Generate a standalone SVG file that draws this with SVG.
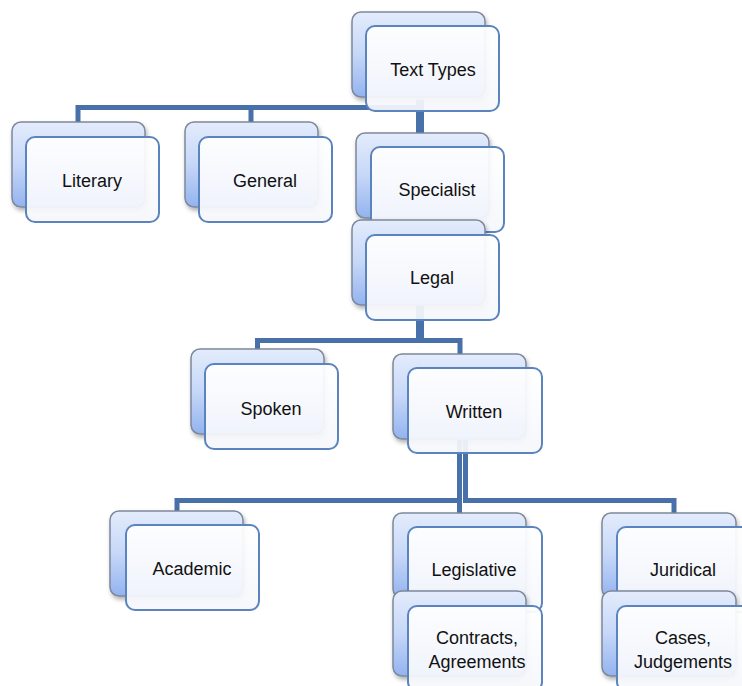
<svg xmlns="http://www.w3.org/2000/svg" width="742" height="686" viewBox="0 0 742 686">
<defs>
<linearGradient id="gBack" x1="0" y1="0" x2="0" y2="1">
<stop offset="0" stop-color="#e4ecfc"/>
<stop offset="0.5" stop-color="#c6d7f8"/>
<stop offset="1" stop-color="#93b3ef"/>
</linearGradient>
<linearGradient id="gFront" x1="0" y1="0" x2="0" y2="1">
<stop offset="0" stop-color="#ffffff"/>
<stop offset="1" stop-color="#f5f7fc"/>
</linearGradient>
<filter id="sh" x="-10%" y="-10%" width="130%" height="130%">
<feDropShadow dx="1.5" dy="3" stdDeviation="2" flood-color="#000" flood-opacity="0.3"/>
</filter>
<style>
.back{fill:url(#gBack);stroke:#7d889a;stroke-width:1.5;filter:url(#sh)}
.front{fill:url(#gFront);fill-opacity:0.93;stroke:#5b84bf;stroke-width:2}
.lbl{font-family:"Liberation Sans",Arial,sans-serif;font-size:18px;fill:#111;text-anchor:middle}
.c{fill:none;stroke:#4870a9;stroke-width:5;stroke-linejoin:miter}
.ct{fill:none;stroke:#4870a9;stroke-width:8}
</style>
</defs>
<g id="connectors">
<path class="c" d="M78,122 V107.5 H420"/>
<path class="c" d="M251,107.5 V122"/>
<path class="ct" d="M420,100 V134"/>
<path class="ct" d="M420,300 V343"/>
<path class="c" d="M257.5,349 V340.5 H460 V355"/>
<path class="c" d="M459.5,440 V513"/>
<path class="c" d="M465.5,440 V500.5 H674 V513"/>
<path class="c" d="M459.5,500.5 H177 V511"/>
</g>
<g id="n-texttypes"><rect class="back" x="352" y="12" width="133" height="85" rx="9"/><rect class="front" x="366" y="26" width="133" height="85" rx="9"/><text class="lbl" x="433" y="76">Text Types</text></g>
<g id="n-literary"><rect class="back" x="12" y="122" width="133" height="85" rx="9"/><rect class="front" x="26" y="137" width="133" height="85" rx="9"/><text class="lbl" x="92" y="187">Literary</text></g>
<g id="n-general"><rect class="back" x="185" y="122" width="133" height="85" rx="9"/><rect class="front" x="199" y="137" width="133" height="85" rx="9"/><text class="lbl" x="265" y="187">General</text></g>
<g id="n-specialist"><rect class="back" x="356" y="133" width="133" height="85" rx="9"/><rect class="front" x="371" y="147" width="133" height="85" rx="9"/><text class="lbl" x="437" y="196">Specialist</text></g>
<g id="n-legal"><rect class="back" x="352" y="220" width="133" height="85" rx="9"/><rect class="front" x="366" y="235" width="133" height="85" rx="9"/><text class="lbl" x="432" y="284">Legal</text></g>
<g id="n-spoken"><rect class="back" x="191" y="349" width="133" height="85" rx="9"/><rect class="front" x="205" y="364" width="133" height="85" rx="9"/><text class="lbl" x="271" y="415">Spoken</text></g>
<g id="n-written"><rect class="back" x="393" y="354" width="133" height="85" rx="9"/><rect class="front" x="408" y="368" width="134" height="85" rx="9"/><text class="lbl" x="474" y="418">Written</text></g>
<g id="n-academic"><rect class="back" x="110" y="511" width="133" height="85" rx="9"/><rect class="front" x="126" y="525" width="133" height="85" rx="9"/><text class="lbl" x="192" y="575">Academic</text></g>
<g id="n-legislative"><rect class="back" x="393" y="513" width="133" height="85" rx="9"/><rect class="front" x="408" y="527" width="134" height="85" rx="9"/><text class="lbl" x="474" y="576">Legislative</text></g>
<g id="n-contracts"><rect class="back" x="393" y="591" width="133" height="85" rx="9"/><rect class="front" x="408" y="606" width="134" height="85" rx="9"/><text class="lbl" x="477" y="644">Contracts,</text><text class="lbl" x="477" y="668">Agreements</text></g>
<g id="n-juridical"><rect class="back" x="602" y="513" width="134" height="85" rx="9"/><rect class="front" x="617" y="527" width="134" height="85" rx="9"/><text class="lbl" x="683" y="576">Juridical</text></g>
<g id="n-cases"><rect class="back" x="602" y="591" width="134" height="85" rx="9"/><rect class="front" x="617" y="606" width="134" height="85" rx="9"/><text class="lbl" x="683" y="644">Cases,</text><text class="lbl" x="683" y="668">Judgements</text></g>
</svg>
